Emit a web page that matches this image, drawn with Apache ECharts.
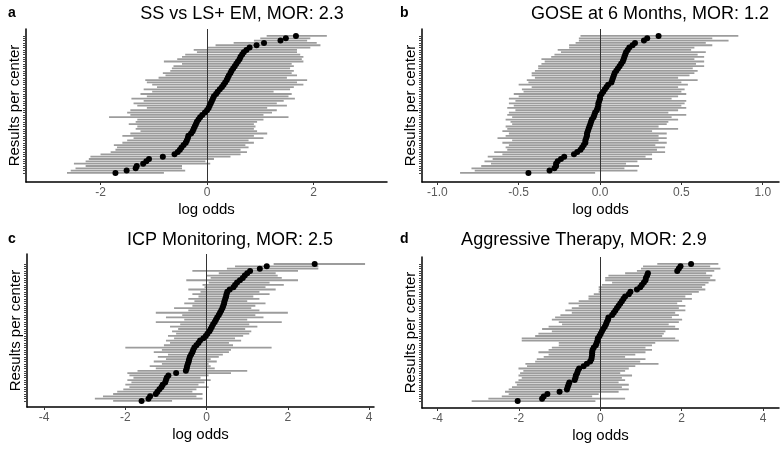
<!DOCTYPE html>
<html>
<head>
<meta charset="utf-8">
<script src="https://cdn.jsdelivr.net/npm/echarts@6/dist/echarts.min.js"></script>
<style>
  html, body { margin: 0; padding: 0; background: #fff; }
  #main { width: 784px; height: 449px; }
</style>
</head>
<body>
<div id="main"></div>
<script>
// panel a - SS vs LS+ EM
const estA = [-1.72,-1.51,-1.34,-1.32,-1.20,-1.14,-1.09,-0.83,-0.61,-0.55,-0.51,-0.48,-0.44,-0.40,-0.38,-0.36,-0.35,-0.30,-0.27,-0.25,-0.23,-0.21,-0.19,-0.16,-0.13,-0.09,-0.04,0.00,0.03,0.05,0.07,0.09,0.11,0.13,0.17,0.20,0.24,0.28,0.31,0.34,0.37,0.39,0.41,0.44,0.46,0.49,0.52,0.55,0.58,0.61,0.63,0.66,0.69,0.74,0.80,0.93,1.07,1.38,1.48,1.67]
const loA = [-2.63,-2.56,-2.47,-2.28,-2.50,-2.28,-2.22,-2.19,-2.00,-1.81,-1.72,-1.69,-1.75,-1.59,-1.50,-1.38,-1.59,-1.44,-1.25,-1.34,-1.31,-1.47,-1.34,-1.31,-1.84,-1.44,-1.50,-1.44,-1.13,-1.31,-1.38,-1.19,-1.42,-1.13,-1.25,-1.03,-1.19,-0.94,-1.03,-1.13,-1.16,-0.91,-0.78,-0.83,-0.69,-0.66,-0.63,-0.47,-0.81,-0.56,-0.47,-0.41,-0.19,-0.25,0.00,0.16,0.50,0.88,1.00,1.12]
const hiA = [-0.81,-0.41,-0.47,-0.47,0.06,-0.03,0.13,0.44,0.63,0.75,0.63,0.78,0.72,0.88,0.78,1.06,0.88,1.13,0.94,0.88,0.91,0.88,0.94,1.06,1.53,1.06,1.22,1.31,1.13,1.50,1.31,1.44,1.65,1.53,1.59,1.25,1.56,1.63,1.81,1.69,1.88,1.50,1.69,1.59,1.63,1.56,1.63,1.59,1.81,1.78,1.81,1.75,1.69,1.69,1.94,2.13,2.06,1.88,1.94,2.25]

// panel b - GOSE at 6 Months
const estB = [-0.44,-0.31,-0.28,-0.27,-0.27,-0.26,-0.24,-0.22,-0.16,-0.14,-0.12,-0.11,-0.10,-0.09,-0.09,-0.085,-0.08,-0.08,-0.075,-0.07,-0.065,-0.06,-0.055,-0.05,-0.04,-0.035,-0.03,-0.02,-0.015,-0.01,-0.01,-0.005,0.00,0.00,0.01,0.02,0.03,0.04,0.05,0.07,0.075,0.08,0.085,0.09,0.10,0.11,0.12,0.13,0.14,0.145,0.15,0.155,0.16,0.17,0.18,0.20,0.215,0.27,0.29,0.36]
const loB = [-0.86,-0.77,-0.79,-0.73,-0.67,-0.71,-0.66,-0.69,-0.60,-0.65,-0.57,-0.58,-0.56,-0.60,-0.54,-0.63,-0.58,-0.56,-0.60,-0.57,-0.58,-0.54,-0.55,-0.58,-0.54,-0.57,-0.56,-0.52,-0.57,-0.53,-0.56,-0.52,-0.56,-0.50,-0.53,-0.47,-0.48,-0.42,-0.50,-0.44,-0.45,-0.40,-0.42,-0.42,-0.40,-0.38,-0.38,-0.36,-0.34,-0.36,-0.30,-0.28,-0.24,-0.26,-0.19,-0.19,-0.15,-0.13,-0.13,-0.12]
const hiB = [-0.03,0.23,0.15,0.24,0.16,0.23,0.32,0.28,0.32,0.40,0.35,0.40,0.34,0.41,0.36,0.41,0.36,0.41,0.32,0.48,0.36,0.41,0.42,0.48,0.44,0.53,0.42,0.48,0.53,0.50,0.52,0.53,0.44,0.48,0.53,0.50,0.52,0.48,0.54,0.50,0.60,0.48,0.55,0.58,0.60,0.57,0.64,0.59,0.64,0.58,0.64,0.60,0.65,0.56,0.58,0.69,0.65,0.79,0.69,0.85]

// panel c - ICP Monitoring
const estC = [-1.60,-1.43,-1.39,-1.25,-1.21,-1.16,-1.11,-1.08,-1.02,-1.00,-0.98,-0.94,-0.75,-0.51,-0.49,-0.48,-0.46,-0.44,-0.43,-0.41,-0.38,-0.35,-0.33,-0.30,-0.25,-0.20,-0.16,-0.08,-0.02,0.02,0.07,0.10,0.13,0.16,0.20,0.23,0.26,0.30,0.33,0.36,0.39,0.41,0.43,0.44,0.46,0.48,0.49,0.51,0.57,0.66,0.70,0.75,0.82,0.89,0.94,1.00,1.07,1.31,1.48,2.66]
const loC = [-2.30,-2.75,-2.55,-2.30,-2.20,-2.05,-1.90,-2.00,-1.85,-1.95,-1.80,-1.90,-1.95,-1.70,-1.25,-1.40,-1.10,-1.30,-1.00,-1.20,-0.95,-1.30,-1.10,-2.00,-1.05,-0.90,-1.00,-0.80,-0.95,-0.75,-0.85,-0.70,-0.90,-0.65,-1.25,-0.55,-1.00,-0.60,-1.25,-0.45,-0.80,-0.35,-0.55,-0.30,-0.45,-0.20,-0.35,-0.15,-0.45,-0.05,-0.10,0.05,-0.50,0.10,0.00,0.30,-0.35,0.50,0.70,1.65]
const hiC = [-0.85,-0.10,-0.25,-0.10,-0.35,-0.25,0.05,-0.20,-0.05,0.10,-0.15,0.05,0.60,1.00,0.20,0.10,0.05,0.25,0.10,0.30,0.40,0.55,0.60,1.60,0.65,0.55,0.85,0.70,0.90,1.05,1.10,0.95,1.25,1.05,1.85,1.00,1.40,1.20,2.00,1.30,1.10,1.20,1.45,1.00,1.30,1.15,1.55,1.30,1.70,1.45,1.90,1.55,2.25,1.85,1.75,1.70,2.25,2.75,2.75,3.90]

// panel d - Aggressive Therapy
const estD = [-2.03,-1.43,-1.39,-1.30,-1.00,-0.82,-0.80,-0.78,-0.76,-0.63,-0.61,-0.60,-0.57,-0.55,-0.52,-0.41,-0.33,-0.25,-0.22,-0.21,-0.20,-0.20,-0.19,-0.16,-0.11,-0.09,-0.07,-0.06,-0.02,0.01,0.04,0.07,0.11,0.14,0.16,0.19,0.20,0.29,0.33,0.37,0.41,0.45,0.49,0.53,0.57,0.61,0.70,0.74,0.90,0.98,1.02,1.07,1.11,1.12,1.15,1.17,1.89,1.93,1.97,2.23]
const loD = [-3.16,-2.75,-2.42,-2.25,-2.34,-2.25,-2.17,-2.05,-2.09,-2.01,-1.93,-2.01,-1.97,-1.89,-2.01,-1.80,-1.84,-1.60,-1.56,-1.39,-1.27,-1.52,-1.27,-1.19,-1.02,-1.02,-1.93,-1.93,-1.60,-1.52,-1.19,-1.43,-1.27,-0.94,-1.02,-1.19,-1.11,-0.98,-0.70,-0.86,-0.70,-0.53,-0.78,-0.53,-0.29,-0.29,-0.16,-0.04,-0.04,-0.04,0.04,0.29,0.12,0.12,0.20,0.61,0.90,1.00,1.05,1.40]
const hiD = [-0.12,0.61,-0.20,-0.04,0.45,0.70,0.53,0.70,0.45,0.61,0.53,0.78,0.49,0.61,0.70,0.86,1.43,0.98,1.11,0.61,0.86,1.11,1.27,1.11,1.27,1.35,1.93,1.84,1.52,1.56,1.60,1.93,1.84,1.68,1.93,2.01,1.76,1.93,1.84,2.09,1.93,2.09,1.89,2.01,2.25,2.09,2.25,2.42,2.58,2.50,2.58,2.66,2.83,2.70,2.75,2.60,2.80,2.95,2.70,2.90]

const titles = ['SS vs LS+ EM, MOR: 2.3', 'GOSE at 6 Months, MOR: 1.2', 'ICP Monitoring, MOR: 2.5', 'Aggressive Therapy, MOR: 2.9']
const letters = ['a', 'b', 'c', 'd']
const ticksA = [-2, 0, 2]
const ticksB = [-1.0, -0.5, 0.0, 0.5, 1.0]
const ticksC = [-4, -2, 0, 2, 4]
const ticksD = [-4, -2, 0, 2, 4]

const FONT = "'Liberation Sans', Arial, sans-serif"

// positions of each panel (pixels + axis ranges)
const panels = [
  { est: estA, lo: loA, hi: hiA, ticks: ticksA, dec: 0, grid: { left: 26, top: 29, width: 361, height: 153 }, x: [-3.4, 3.38], y: [-3.9, 62], title: [242, 14], letter: [8, 13] },
  { est: estB, lo: loB, hi: hiB, ticks: ticksB, dec: 1, grid: { left: 422, top: 29, width: 357, height: 153 }, x: [-1.094, 1.1], y: [-3.9, 62], title: [650, 14], letter: [400, 13] },
  { est: estC, lo: loC, hi: hiC, ticks: ticksC, dec: 0, grid: { left: 27, top: 254, width: 347, height: 153 }, x: [-4.42, 4.12], y: [-2.6, 63.3], title: [230, 240], letter: [8, 239] },
  { est: estD, lo: loD, hi: hiD, ticks: ticksD, dec: 0, grid: { left: 422, top: 257, width: 357, height: 151 }, x: [-4.38, 4.39], y: [-3.0, 62], title: [584, 240], letter: [400, 239] },
]

let grid = [], xAxis = [], yAxis = [], series = [], graphic = []

panels.forEach((p, k) => {
  const rows = p.est.map((_, i) => i)
  grid.push(p.grid)
  xAxis.push({
    gridIndex: k, type: 'value', min: p.x[0], max: p.x[1],
    axisLine: { onZero: false, lineStyle: { color: '#000', width: 1.5 } },
    axisTick: { customValues: p.ticks, length: 3, lineStyle: { color: '#333' } },
    axisLabel: { customValues: p.ticks, color: '#5a5a5a', fontSize: 12, fontFamily: FONT, margin: 5,
      formatter: v => v.toFixed(p.dec) },
    splitLine: { show: false },
    name: 'log odds', nameLocation: 'middle', nameGap: 20,
    nameTextStyle: { color: '#000', fontSize: 15, fontFamily: FONT }
  })
  yAxis.push({
    gridIndex: k, type: 'value', min: p.y[0], max: p.y[1],
    axisLine: { onZero: false, lineStyle: { color: '#000', width: 1.5 } },
    axisTick: { customValues: rows, length: 3, lineStyle: { color: '#444', width: 1 } },
    axisLabel: { show: false },
    splitLine: { show: false },
    name: 'Results per center', nameLocation: 'middle', nameGap: 4,
    nameTextStyle: { color: '#000', fontSize: 15, fontFamily: FONT }
  })
  series.push({
    type: 'custom', xAxisIndex: k, yAxisIndex: k, z: 2,
    data: rows.map(i => [p.lo[i], p.hi[i], i]),
    encode: { x: [0, 1], y: 2 },
    renderItem: (params, api) => {
      const a = api.coord([api.value(0), api.value(2)])
      const b = api.coord([api.value(1), api.value(2)])
      return { type: 'line', shape: { x1: a[0], y1: a[1], x2: b[0], y2: b[1] },
        style: { stroke: '#9c9c9c', lineWidth: 1.8 } }
    },
    markLine: { silent: true, symbol: 'none', label: { show: false },
      lineStyle: { color: '#333', width: 1, type: 'solid' }, data: [{ xAxis: 0 }] }
  })
  series.push({
    type: 'scatter', xAxisIndex: k, yAxisIndex: k, z: 5,
    data: rows.map(i => [p.est[i], i]),
    symbolSize: 6, itemStyle: { color: '#000', opacity: 1 }
  })
  graphic.push({ type: 'text', x: p.title[0], y: p.title[1],
    style: { text: titles[k], textAlign: 'center', textVerticalAlign: 'middle', fill: '#000', font: '18px ' + FONT } })
  graphic.push({ type: 'text', x: p.letter[0], y: p.letter[1],
    style: { text: letters[k], textAlign: 'left', textVerticalAlign: 'middle', fill: '#000', font: 'bold 14px ' + FONT } })
})

const chart = echarts.init(document.getElementById('main'))
chart.setOption({
  animation: false,
  backgroundColor: '#fff',
  grid, xAxis, yAxis, series, graphic
})
</script>
</body>
</html>
